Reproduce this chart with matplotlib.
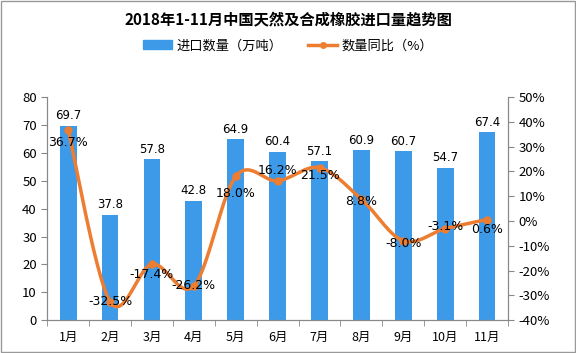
import matplotlib
matplotlib.use("Agg")
import matplotlib.pyplot as plt
import numpy as np
from matplotlib.lines import Line2D
from matplotlib.patches import Patch, Rectangle

plt.rcParams['font.family'] = ['Noto Sans CJK SC', 'DejaVu Sans']

months = ['1月', '2月', '3月', '4月', '5月', '6月', '7月', '8月', '9月', '10月', '11月']
qty = [69.7, 37.8, 57.8, 42.8, 64.9, 60.4, 57.1, 60.9, 60.7, 54.7, 67.4]
yoy = [36.7, -32.5, -17.4, -26.2, 18.0, 16.2, 21.5, 8.8, -8.0, -3.1, 0.6]

bar_color = '#3D9AE8'
line_color = '#ED7D31'
axis_color = '#888888'


def smooth(x, y, n=30):
    # Catmull-Rom style curve, like Excel's smoothed line
    x = np.asarray(x, float)
    y = np.asarray(y, float)
    px = np.concatenate([[x[0]], x, [x[-1]]])
    py = np.concatenate([[y[0]], y, [y[-1]]])
    xs, ys = [], []
    t = np.linspace(0, 1, n)
    for i in range(1, len(px) - 2):
        p0, p1, p2, p3 = px[i - 1], px[i], px[i + 1], px[i + 2]
        q0, q1, q2, q3 = py[i - 1], py[i], py[i + 1], py[i + 2]
        c1x, c1y = p1 + (p2 - p0) / 6, q1 + (q2 - q0) / 6
        c2x, c2y = p2 - (p3 - p1) / 6, q2 - (q3 - q1) / 6
        bx = (1 - t) ** 3 * p1 + 3 * (1 - t) ** 2 * t * c1x + 3 * (1 - t) * t ** 2 * c2x + t ** 3 * p2
        by = (1 - t) ** 3 * q1 + 3 * (1 - t) ** 2 * t * c1y + 3 * (1 - t) * t ** 2 * c2y + t ** 3 * q2
        xs.extend(bx)
        ys.extend(by)
    return np.array(xs), np.array(ys)


fig = plt.figure(figsize=(5.76, 3.53), dpi=100)
ax = fig.add_axes([0.082, 0.093, 0.800, 0.632])
ax2 = ax.twinx()

x = np.arange(len(months))
ax.bar(x, qty, width=0.4, color=bar_color, zorder=2)
for xi, v in zip(x, qty):
    ax.text(xi, v + 1.2, f'{v}', ha='center', va='bottom', fontsize=8.5, family='DejaVu Sans')

ax.set_xlim(-0.5, len(months) - 0.5)
ax.set_ylim(0, 80)
ax.set_yticks(range(0, 81, 10))
ax.set_xticks(x)
ax.set_xticklabels(months, fontsize=9)
ax.set_xticks(np.arange(-0.5, len(months), 1), minor=True)
ax.tick_params(axis='x', which='major', length=0, pad=8)
ax.tick_params(axis='x', which='minor', length=4, color=axis_color)
ax.tick_params(axis='y', length=4, color=axis_color, labelsize=9.5)

sx, sy = smooth(x, yoy)
ax2.plot(sx, sy, color=line_color, lw=2.5, zorder=3)
ax2.plot(x, yoy, 'o', color=line_color, ms=5, zorder=4)
ax2.set_ylim(-40, 50)
ax2.set_yticks(range(-40, 51, 10))
ax2.set_yticklabels([f'{v}%' for v in range(-40, 51, 10)])
ax2.tick_params(axis='y', length=4, color=axis_color, labelsize=9.5)

label_dy = [-5, 0, -4, 0, -7, 4, -3, -1, -1, 1, -4]
for xi, v, dy in zip(x, yoy, label_dy):
    ax2.text(xi, v + dy, f'{v:.1f}%', ha='center', va='center', fontsize=9,
             family='DejaVu Sans', zorder=5)

for a in (ax, ax2):
    a.spines['top'].set_visible(False)
    for s in ('left', 'right', 'bottom'):
        a.spines[s].set_color(axis_color)
ax2.set_zorder(ax.get_zorder() + 1)
ax2.patch.set_visible(False)

fig.text(0.5, 0.945, '2018年1-11月中国天然及合成橡胶进口量趋势图', ha='center', va='center',
         fontsize=11, fontweight='bold')
handles = [Patch(color=bar_color, label='进口数量（万吨）'),
           Line2D([0], [0], color=line_color, lw=2.5, marker='o', ms=4, label='数量同比（%）')]
fig.legend(handles=handles, loc='center', bbox_to_anchor=(0.5, 0.87), ncol=2, frameon=False,
           fontsize=9.5, handlelength=2.2, columnspacing=2.0, handletextpad=0.3)

fig.patches.append(Rectangle((0.002, 0.003), 0.996, 0.994, transform=fig.transFigure,
                             fill=False, edgecolor='#999999', lw=1))

fig.savefig('out.png', dpi=100)
